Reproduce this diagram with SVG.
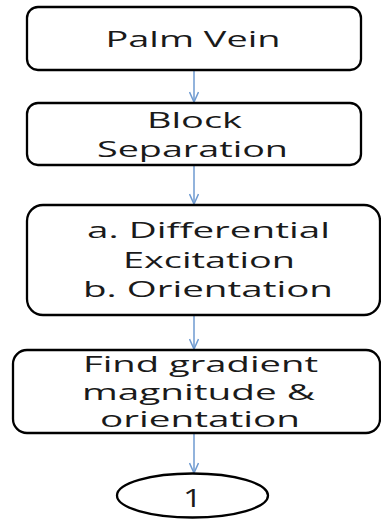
<svg xmlns="http://www.w3.org/2000/svg" width="381" height="519" viewBox="0 0 381 519">
  <defs>
    <style>
      .box { fill: #ffffff; stroke: #000000; stroke-width: 2.3; }
      .lbl { font-family: "Open Sans", "Liberation Sans", Arial, sans-serif; font-size: 21px; fill: #1a1a1a; text-anchor: middle; }
      .edge { stroke: #6e9ad0; stroke-width: 1.5; fill: none; }
    </style>
    <marker id="vee" viewBox="0 0 12 10" refX="11" refY="5" markerWidth="12" markerHeight="10" markerUnits="userSpaceOnUse" orient="auto">
      <path d="M1,0.5 L11,5 L1,9.5" fill="none" stroke="#6e9ad0" stroke-width="1.5"/>
    </marker>
  </defs>
  <rect width="381" height="519" fill="#ffffff"/>

  <g id="connectors">
    <line class="edge" x1="194" y1="70" x2="194" y2="102" marker-end="url(#vee)"/>
    <line class="edge" x1="194" y1="165" x2="194" y2="204" marker-end="url(#vee)"/>
    <line class="edge" x1="194" y1="315" x2="194" y2="349" marker-end="url(#vee)"/>
    <line class="edge" x1="194" y1="433" x2="194" y2="473" marker-end="url(#vee)"/>
  </g>

  <g id="palm-vein">
    <rect class="box" x="27" y="7" width="334" height="63" rx="11"/>
    <text class="lbl" x="193" y="47" textLength="175" lengthAdjust="spacingAndGlyphs">Palm Vein</text>
  </g>

  <g id="block-separation">
    <rect class="box" x="27" y="103" width="334" height="62" rx="11"/>
    <text class="lbl" x="194.5" y="128" textLength="95" lengthAdjust="spacingAndGlyphs">Block</text>
    <text class="lbl" x="192.5" y="157" textLength="191" lengthAdjust="spacingAndGlyphs">Separation</text>
  </g>

  <g id="excitation-orientation">
    <rect class="box" x="27" y="205" width="353" height="110" rx="16"/>
    <text class="lbl" x="208.5" y="238" textLength="243" lengthAdjust="spacingAndGlyphs">a. Differential</text>
    <text class="lbl" x="209" y="268" textLength="172" lengthAdjust="spacingAndGlyphs">Excitation</text>
    <text class="lbl" x="208" y="297" textLength="250" lengthAdjust="spacingAndGlyphs">b. Orientation</text>
  </g>

  <g id="gradient">
    <rect class="box" x="13" y="350" width="367" height="83" rx="14"/>
    <text class="lbl" x="200.5" y="372" textLength="235" lengthAdjust="spacingAndGlyphs">Find gradient</text>
    <text class="lbl" x="198.5" y="400" textLength="233" lengthAdjust="spacingAndGlyphs">magnitude &amp;</text>
    <text class="lbl" x="200" y="427" textLength="200" lengthAdjust="spacingAndGlyphs">orientation</text>
  </g>

  <g id="connector-1">
    <ellipse class="box" cx="192.5" cy="495.5" rx="75.5" ry="22"/>
    <text class="lbl" x="192.5" y="507" style="font-size:26px" textLength="19" lengthAdjust="spacingAndGlyphs">1</text>
  </g>
</svg>
